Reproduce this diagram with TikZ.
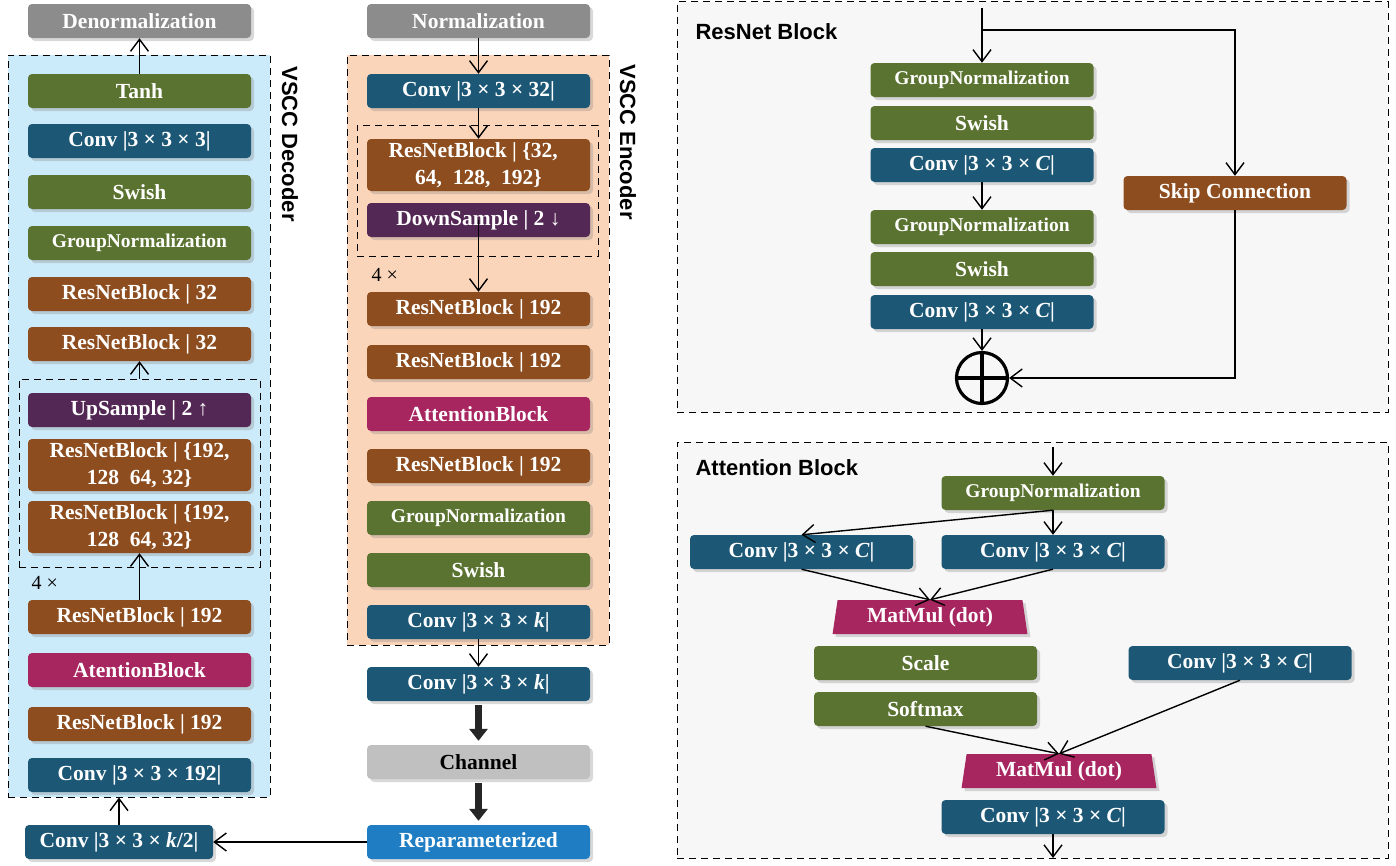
\documentclass[tikz,border=0pt]{standalone}
\usepackage{fontspec}
\setmainfont{Liberation Serif}
\newfontfamily\titlefont{Liberation Sans}
\usetikzlibrary{arrows.meta,shapes.geometric,shadows}
\definecolor{Olive}{RGB}{91,115,49}
\definecolor{Petrol}{RGB}{28,88,118}
\definecolor{Rust}{RGB}{141,77,31}
\definecolor{Plum}{RGB}{84,40,84}
\definecolor{Berry}{RGB}{168,38,96}
\definecolor{Ash}{RGB}{140,140,140}
\definecolor{Silver}{RGB}{192,192,192}
\definecolor{Sky}{RGB}{30,125,195}
\definecolor{IceBlue}{RGB}{204,235,250}
\definecolor{Peach}{RGB}{251,213,186}
\definecolor{Paper}{RGB}{247,247,247}

\begin{document}
\begin{tikzpicture}[x=1pt,y=-1pt,
  box/.style={rounded corners=4pt, minimum width=223pt, minimum height=34pt, inner sep=0pt,
    text=white, align=center, font=\bfseries\fontsize{21.5}{27}\selectfont,
    drop shadow={shadow xshift=3pt,shadow yshift=-3pt,opacity=0.3}},
  gbox/.style={box, fill=Olive},
  gnbox/.style={gbox, font=\bfseries\fontsize{19.5}{24}\selectfont},
  cbox/.style={box, fill=Petrol},
  rbox/.style={box, fill=Rust},
  rtwo/.style={rbox, minimum height=52pt},
  pbox/.style={box, fill=Plum},
  abox/.style={box, fill=Berry},
  mmbox/.style={trapezium, trapezium left angle=80, trapezium right angle=80, trapezium stretches=true,
    minimum width=195pt, minimum height=34pt, inner sep=0pt, fill=Berry, text=white,
    font=\bfseries\fontsize{21.5}{27}\selectfont,
    drop shadow={shadow xshift=3pt,shadow yshift=-3pt,opacity=0.3}},
  dashframe/.style={draw, line width=1pt, dash pattern=on 7pt off 5pt, inner sep=0pt},
  flow/.style={-{Straight Barb[length=12pt,width=18pt]}, line width=1.4pt},
  bigflow/.style={-{Triangle[length=12pt,width=18pt]}, line width=7pt, draw=black!85},
  paneltitle/.style={font=\titlefont\bfseries\fontsize{22}{25}\selectfont, anchor=west},
  sidetitle/.style={font=\titlefont\bfseries\fontsize{22}{25}\selectfont, rotate=-90},
  looplabel/.style={font=\fontsize{20}{23}\selectfont, anchor=west}
]
\useasboundingbox (0,0) rectangle (1396,865);
%
% frames
\node[dashframe, fill=IceBlue, minimum width=262pt, minimum height=742pt] (decframe) at (139,426) {};
\node[dashframe, minimum width=241pt, minimum height=188pt] (decloop) at (139.5,473) {};
\node[dashframe, fill=Peach, minimum width=262pt, minimum height=590pt] (encframe) at (478,350) {};
\node[dashframe, minimum width=241pt, minimum height=131pt] (encloop) at (477.5,190.5) {};
\node[dashframe, fill=Paper, minimum width=711pt, minimum height=411pt] (respanel) at (1032.5,207) {};
\node[dashframe, fill=Paper, minimum width=711pt, minimum height=416pt] (attpanel) at (1032.5,650) {};
%
% decoder
\node[box, fill=Ash] (denorm) at (139.5,21) {Denormalization};
\node[gbox] (dtanh) at (139.5,91) {Tanh};
\node[cbox] (dconv3) at (139.5,141) {Conv |3 × 3 × 3|};
\node[gbox] (dswish) at (139.5,192) {Swish};
\node[gnbox] (dgn) at (139.5,243) {GroupNormalization};
\node[rbox] (dres32a) at (139.5,294) {ResNetBlock | 32};
\node[rbox] (dres32b) at (139.5,344) {ResNetBlock | 32};
\node[pbox] (dup) at (139.5,410) {UpSample | 2 ↑};
\node[rtwo] (dresA) at (139.5,465) {ResNetBlock | \{192,\\128~ 64, 32\}};
\node[rtwo] (dresB) at (139.5,527) {ResNetBlock | \{192,\\128~ 64, 32\}};
\node[looplabel] (dloopnum) at (28,583) {4 ×};
\node[rbox] (dres192a) at (139.5,617) {ResNetBlock | 192};
\node[abox] (datt) at (139.5,670) {AtentionBlock};
\node[rbox] (dres192b) at (139.5,724) {ResNetBlock | 192};
\node[cbox] (dconv192) at (139.5,775) {Conv |3 × 3 × 192|};
\node[cbox, minimum width=188pt] (dconvk2) at (119,842) {Conv |3 × 3 × \textit{k}/2|};
\node[sidetitle] (dectitle) at (290,144) {VSCC Decoder};
%
% encoder
\node[box, fill=Ash] (norm) at (478.5,21) {Normalization};
\node[cbox] (econv32) at (478.5,91) {Conv |3 × 3 × 32|};
\node[rtwo] (eresA) at (478.5,165) {ResNetBlock | \{32,\enspace\\64,\enspace 128,\enspace 192\}};
\node[pbox] (edown) at (478.5,220) {DownSample | 2 ↓};
\node[looplabel] (eloopnum) at (368,275) {4 ×};
\node[rbox] (eres192a) at (478.5,309) {ResNetBlock | 192};
\node[rbox] (eres192b) at (478.5,362) {ResNetBlock | 192};
\node[abox] (eatt) at (478.5,414) {AttentionBlock};
\node[rbox] (eres192c) at (478.5,466) {ResNetBlock | 192};
\node[gnbox] (egn) at (478.5,518) {GroupNormalization};
\node[gbox] (eswish) at (478.5,570) {Swish};
\node[cbox] (econvk) at (478.5,622) {Conv |3 × 3 × \textit{k}|};
\node[cbox] (convk) at (478.5,684) {Conv |3 × 3 × \textit{k}|};
\node[box, fill=Silver, text=black] (channel) at (478.5,762) {Channel};
\node[box, fill=Sky] (reparam) at (478.5,842) {Reparameterized};
\node[sidetitle] (enctitle) at (628,142) {VSCC Encoder};
%
% decoder / encoder links
\draw[flow] (dtanh.north) -- (denorm.south);
\draw[flow] (decloop.north) -- (dres32b.south);
\draw[flow] (dres192a.north) -- (dresB.south);
\draw[flow] (dconvk2.north) -- (dconvk2.north |- decframe.south);
\draw[flow] (reparam.west) -- (dconvk2.east);
\draw[flow] (norm.south) -- (econv32.north);
\draw[flow] (econv32.south) -- (eresA.north);
\draw[flow] (edown.center) -- (eres192a.north);
\draw[flow] (econvk.south) -- (convk.north);
\draw[bigflow] ([yshift=-4pt]convk.south) -- ([yshift=4pt]channel.north);
\draw[bigflow] ([yshift=-4pt]channel.south) -- ([yshift=4pt]reparam.north);
%
% resnet block
\node[paneltitle] (restitle) at (692,32) {ResNet Block};
\node[gnbox] (rgn1) at (982,80) {GroupNormalization};
\node[gbox] (rsw1) at (982,123) {Swish};
\node[cbox] (rconv1) at (982,165) {Conv |3 × 3 × \textit{C}|};
\node[gnbox] (rgn2) at (982,227) {GroupNormalization};
\node[gbox] (rsw2) at (982,269) {Swish};
\node[cbox] (rconv2) at (982,312) {Conv |3 × 3 × \textit{C}|};
\node[rbox] (rskip) at (1235,193) {Skip Connection};
\node[circle, draw, line width=3.2pt, minimum size=51pt, inner sep=0pt] (rplus) at (982,378) {};
\draw[line width=3.2pt] (rplus.north) -- (rplus.south);
\draw[line width=3.2pt] (rplus.west) -- (rplus.east);
\coordinate (rin) at (982,8);
\coordinate (rbranch) at (982,30);
\draw[flow] (rin) -- (rgn1.north);
\draw[flow] (rbranch) -| (rskip.north);
\draw[flow] (rconv1.south) -- (rgn2.north);
\draw[flow] (rconv2.south) -- (rplus.north);
\draw[flow] (rskip.south) |- (rplus.east);
%
% attention block
\node[paneltitle] (atttitle) at (692,468) {Attention Block};
\node[gnbox] (agn) at (1053,493) {GroupNormalization};
\node[cbox] (aconvl) at (801.5,552) {Conv |3 × 3 × \textit{C}|};
\node[cbox] (aconvr) at (1053,552) {Conv |3 × 3 × \textit{C}|};
\node[mmbox] (amm1) at (930,617) {MatMul (dot)};
\node[gbox] (ascale) at (925.5,663) {Scale};
\node[gbox] (asoft) at (925.5,709) {Softmax};
\node[cbox] (aconvv) at (1240,663) {Conv |3 × 3 × \textit{C}|};
\node[mmbox] (amm2) at (1059,771) {MatMul (dot)};
\node[cbox] (aconvo) at (1053,817) {Conv |3 × 3 × \textit{C}|};
\coordinate (ain) at (1053,447);
\coordinate (aout) at (1053,858);
\draw[flow] (ain) -- (agn.north);
\draw[flow] (agn.south) -- (aconvr.north);
\draw[flow] (agn.south) -- (aconvl.north);
\draw[flow] (aconvl.south) -- (amm1.north);
\draw[flow] (aconvr.south) -- (amm1.north);
\draw[flow] (asoft.south) -- (amm2.north);
\draw[flow] (aconvv.south) -- (amm2.north);
\draw[flow] (aconvo.south) -- (aout);
%
\end{tikzpicture}
\end{document}
